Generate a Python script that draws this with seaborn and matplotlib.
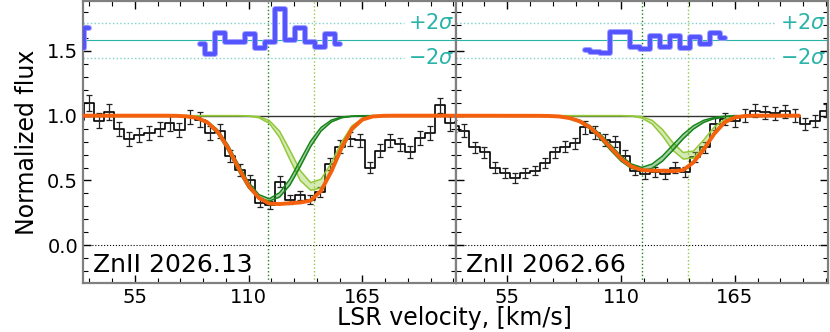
import numpy as np
import pandas as pd
import matplotlib
matplotlib.use('Agg')
import matplotlib.pyplot as plt
import seaborn as sns
from matplotlib.ticker import MultipleLocator

sns.set_style('ticks')
plt.rcParams['font.family'] = ['DejaVu Sans']
plt.rcParams['mathtext.fontset'] = 'dejavusans'
plt.rcParams['text.color'] = 'k'
plt.rcParams['axes.labelcolor'] = 'k'
plt.rcParams['xtick.color'] = 'k'
plt.rcParams['ytick.color'] = 'k'

# ---- ZnII 2026.13: spectrum bins ----
vel1 = [28.2, 33.0, 37.9, 42.7, 47.6, 52.4, 57.3, 62.1, 67.0, 71.8, 76.6, 81.5, 86.3,
        91.2, 96.0, 100.9, 105.7, 110.6, 115.4, 120.3, 125.1, 130.0, 134.8, 139.6,
        144.5, 149.3, 154.2, 159.0, 163.9, 168.7, 173.5, 178.4, 183.2, 188.1, 192.9,
        197.8, 202.6, 207.5, 212.3]
flux1 = [0.97, 1.10, 0.96, 1.03, 0.90, 0.82, 0.85, 0.87, 0.90, 0.94, 0.89, 0.99, 0.97,
         0.87, 0.88, 0.69, 0.58, 0.50, 0.33, 0.31, 0.49, 0.35, 0.385, 0.35, 0.41, 0.63,
         0.76, 0.82, 0.81, 0.60, 0.73, 0.81, 0.78, 0.72, 0.83, 0.87, 1.08, 0.94, 0.95]
err1 = [0.057, 0.06, 0.057, 0.06, 0.055, 0.052, 0.053, 0.054, 0.055, 0.056, 0.055, 0.057,
        0.057, 0.054, 0.054, 0.048, 0.044, 0.041, 0.034, 0.033, 0.041, 0.035, 0.036,
        0.035, 0.037, 0.046, 0.05, 0.052, 0.052, 0.045, 0.05, 0.052, 0.051, 0.049,
        0.053, 0.054, 0.06, 0.056, 0.056]

# ---- ZnII 2062.66: spectrum bins ----
vel2 = [29.5, 34.3, 39.2, 44.0, 48.9, 53.7, 58.6, 63.4, 68.3, 73.1, 78.0, 82.8, 87.6,
        92.5, 97.3, 102.2, 107.0, 111.9, 116.7, 121.6, 126.4, 131.2, 136.1, 140.9,
        145.8, 150.6, 155.5, 160.3, 165.2, 170.0, 174.9, 179.7, 184.5, 189.4, 194.2,
        199.1, 203.9, 208.8, 213.6]
flux2 = [0.92, 0.885, 0.756, 0.718, 0.60, 0.56, 0.52, 0.56, 0.577, 0.633, 0.718, 0.76,
         0.787, 0.91, 0.87, 0.81, 0.80, 0.69, 0.577, 0.55, 0.564, 0.55, 0.60, 0.564,
         0.68, 0.756, 0.936, 0.974, 0.96, 1.00, 1.04, 1.025, 1.018, 1.033, 1.00, 0.936,
         0.96, 1.04, 1.0]
err2 = [0.048, 0.047, 0.043, 0.042, 0.039, 0.037, 0.036, 0.037, 0.038, 0.04, 0.042,
        0.044, 0.044, 0.048, 0.047, 0.045, 0.045, 0.042, 0.038, 0.037, 0.038, 0.037,
        0.039, 0.038, 0.041, 0.043, 0.048, 0.049, 0.049, 0.05, 0.051, 0.051, 0.05,
        0.051, 0.05, 0.048, 0.049, 0.051, 0.05]

# ---- fitted profiles ----
grid1 = [30, 70, 75, 80, 85, 90, 95, 100, 105, 110, 115, 120, 125, 130, 135, 140, 145,
         150, 155, 160, 165, 170, 175, 180, 210]
grid2 = [30, 70, 75, 80, 85, 90, 95, 100, 105, 110, 115, 120, 125, 130, 135, 140, 145,
         150, 155, 160, 165, 170, 175, 180, 196]

dg1_lo = [1.0, 1.0, 0.999, 0.994, 0.980, 0.942, 0.862, 0.733, 0.577, 0.442, 0.361, 0.341,
          0.372, 0.465, 0.608, 0.762, 0.881, 0.952, 0.984, 0.995, 0.999, 1.0, 1.0, 1.0, 1.0]
dg1_hi = [1.0, 1.0, 1.0, 0.996, 0.986, 0.958, 0.892, 0.777, 0.627, 0.486, 0.391, 0.359,
          0.406, 0.511, 0.658, 0.804, 0.909, 0.966, 0.990, 0.997, 1.0, 1.0, 1.0, 1.0, 1.0]
lg1_lo = [1.0, 1.0, 1.0, 1.0, 1.0, 1.0, 1.0, 1.0, 1.0, 0.997, 0.984, 0.941, 0.832, 0.661,
          0.500, 0.425, 0.442, 0.557, 0.733, 0.884, 0.963, 0.992, 0.999, 1.0, 1.0]
lg1_hi = [1.0, 1.0, 1.0, 1.0, 1.0, 1.0, 1.0, 1.0, 1.0, 0.999, 0.992, 0.963, 0.880, 0.733,
          0.576, 0.483, 0.510, 0.635, 0.797, 0.922, 0.979, 0.996, 1.0, 1.0, 1.0]
fit1 = [1.0, 1.0, 0.999, 0.995, 0.983, 0.950, 0.877, 0.755, 0.600, 0.460, 0.365, 0.322,
        0.318, 0.325, 0.330, 0.345, 0.420, 0.570, 0.755, 0.900, 0.970, 0.994, 0.999, 1.0, 1.0]

dg2_lo = [1.0, 0.999, 0.997, 0.992, 0.978, 0.949, 0.897, 0.821, 0.732, 0.649, 0.593, 0.577,
          0.593, 0.649, 0.732, 0.821, 0.897, 0.949, 0.978, 0.992, 0.997, 0.999, 1.0, 1.0, 1.0]
dg2_hi = [1.0, 1.0, 0.999, 0.996, 0.986, 0.965, 0.923, 0.857, 0.774, 0.689, 0.627, 0.601,
          0.627, 0.689, 0.774, 0.857, 0.923, 0.965, 0.986, 0.996, 0.999, 1.0, 1.0, 1.0, 1.0]
lg2_lo = [1.0, 1.0, 1.0, 1.0, 1.0, 1.0, 1.0, 1.0, 1.0, 1.0, 0.997, 0.982, 0.937, 0.845,
          0.733, 0.666, 0.673, 0.754, 0.866, 0.950, 0.986, 0.997, 1.0, 1.0, 1.0]
lg2_hi = [1.0, 1.0, 1.0, 1.0, 1.0, 1.0, 1.0, 1.0, 1.0, 1.0, 0.999, 0.992, 0.964, 0.894,
          0.793, 0.716, 0.727, 0.814, 0.912, 0.972, 0.994, 0.999, 1.0, 1.0, 1.0]
fit2 = [1.0, 0.999, 0.998, 0.994, 0.982, 0.957, 0.910, 0.839, 0.753, 0.669, 0.608, 0.580,
        0.576, 0.575, 0.572, 0.580, 0.640, 0.740, 0.860, 0.948, 0.987, 0.998, 1.0, 1.0, 1.0]

# component centres
comp_v1 = [119.5, 141.5]
comp_v2 = [120.2, 142.2]

# residuals (drawn in the upper strip)
res_mid = 1.585
res_2sig = [1.717, 1.448]
res1a_v = [28.2, 33.0]
res1a = [1.525, 1.68]
res1_v = [86.3, 91.2, 96.0, 100.9, 105.7, 110.6, 115.4, 120.3, 125.1, 130.0, 134.8,
          139.6, 144.5, 149.3, 154.2]
res1 = [1.556, 1.475, 1.641, 1.572, 1.565, 1.628, 1.525, 1.565, 1.82, 1.582, 1.68,
        1.565, 1.53, 1.628, 1.551]
res2_v = [92.5, 97.3, 102.2, 107.0, 111.9, 116.7, 121.6, 126.4, 131.2, 136.1, 140.9,
          145.8, 150.6, 155.5, 160.3]
res2 = [1.505, 1.495, 1.487, 1.649, 1.649, 1.531, 1.513, 1.615, 1.531, 1.615, 1.526,
        1.608, 1.551, 1.641, 1.598]

labels = ['ZnII 2026.13', 'ZnII 2062.66']

C_DG = '#17851a'
C_LG = '#93c83a'
C_FIT = '#f5600c'
C_RES = '#5454ff'
C_TEAL = '#2ab3a9'

f, axes = plt.subplots(1, 2, figsize=(8.3, 3.32), dpi=100, sharey=True)
plt.subplots_adjust(left=0.1, right=0.9976, top=0.997, bottom=0.148, wspace=0)

panels = [
    (vel1, flux1, err1, grid1, dg1_lo, dg1_hi, lg1_lo, lg1_hi, fit1, comp_v1,
     [(res1a_v, res1a), (res1_v, res1)]),
    (vel2, flux2, err2, grid2, dg2_lo, dg2_hi, lg2_lo, lg2_hi, fit2, comp_v2,
     [(res2_v, res2)]),
]

for ax, lab, (vel, flux, err, grid, dlo, dhi, llo, lhi, fit, cv, res) in zip(axes, labels, panels):
    # data
    sns.lineplot(x=vel, y=flux, drawstyle='steps-mid', color='k', lw=1.2,
                 estimator=None, ax=ax, zorder=2)
    ax.errorbar(vel, flux, yerr=err, fmt='none', ecolor='#222222', elinewidth=0.9,
                capsize=2.5, capthick=0.9, zorder=2)
    ax.axhline(0, color='k', ls=':', lw=0.8, zorder=1)
    # continuum and components
    sns.lineplot(x=grid, y=[1.0] * len(grid), color='#333333', lw=1.0, ax=ax, zorder=3)
    for lo, hi, c in [(llo, lhi, C_LG), (dlo, dhi, C_DG)]:
        ax.fill_between(grid, lo, hi, color=c, alpha=0.38, lw=0, zorder=4)
        sns.lineplot(x=grid, y=lo, color=c, lw=1.1, estimator=None, ax=ax, zorder=4)
        sns.lineplot(x=grid, y=hi, color=c, lw=1.1, estimator=None, ax=ax, zorder=4)
    sns.lineplot(x=grid, y=fit, color=C_FIT, lw=2.8, estimator=None, ax=ax, zorder=5)
    ax.axvline(cv[0], color=C_DG, ls=':', lw=1.0, zorder=1)
    ax.axvline(cv[1], color=C_LG, ls=':', lw=1.0, zorder=1)
    # residual strip
    ax.axhline(res_mid, color=C_TEAL, lw=0.8, zorder=1)
    for yy in res_2sig:
        ax.plot([30, 185], [yy, yy], color='#7fd2cc', ls=':', lw=1.0, zorder=1)
    for rv, rr in res:
        ax.step(rv, rr, where='mid', color='#9c9cff', lw=4.2, zorder=6)
        ax.step(rv, rr, where='mid', color=C_RES, lw=2.8, zorder=6)
    ax.text(187.0, res_2sig[0], r'$+2\sigma$', color=C_TEAL, fontsize=15, va='center')
    ax.text(187.0, res_2sig[1], r'$-2\sigma$', color=C_TEAL, fontsize=15, va='center')
    ax.text(35, -0.205, lab, fontsize=18, va='baseline')

    ax.set_xlim(30, 210)
    ax.set_ylim(-0.29, 1.885)
    ax.xaxis.set_major_locator(MultipleLocator(55))
    ax.xaxis.set_minor_locator(MultipleLocator(11))
    ax.yaxis.set_major_locator(MultipleLocator(0.5))
    ax.yaxis.set_minor_locator(MultipleLocator(0.1))
    ax.tick_params(which='both', direction='in', top=True, right=True, labelsize=14,
                   color='k', labelcolor='k')
    ax.tick_params(which='major', length=6, width=1)
    ax.tick_params(which='minor', length=3.5, width=0.8)
    for sp in ax.spines.values():
        sp.set_color('gray')
        sp.set_linewidth(1.6)
    ax.set_xlabel('')

axes[0].set_ylabel('Normalized flux', fontsize=17, labelpad=6, color='k')
axes[0].yaxis.set_major_formatter(matplotlib.ticker.FormatStrFormatter('%.1f'))
f.text(0.548, 0.042, 'LSR velocity, [km/s]', fontsize=17, ha='center', va='center',
       color='k')

plt.savefig('out.png', dpi=100)
